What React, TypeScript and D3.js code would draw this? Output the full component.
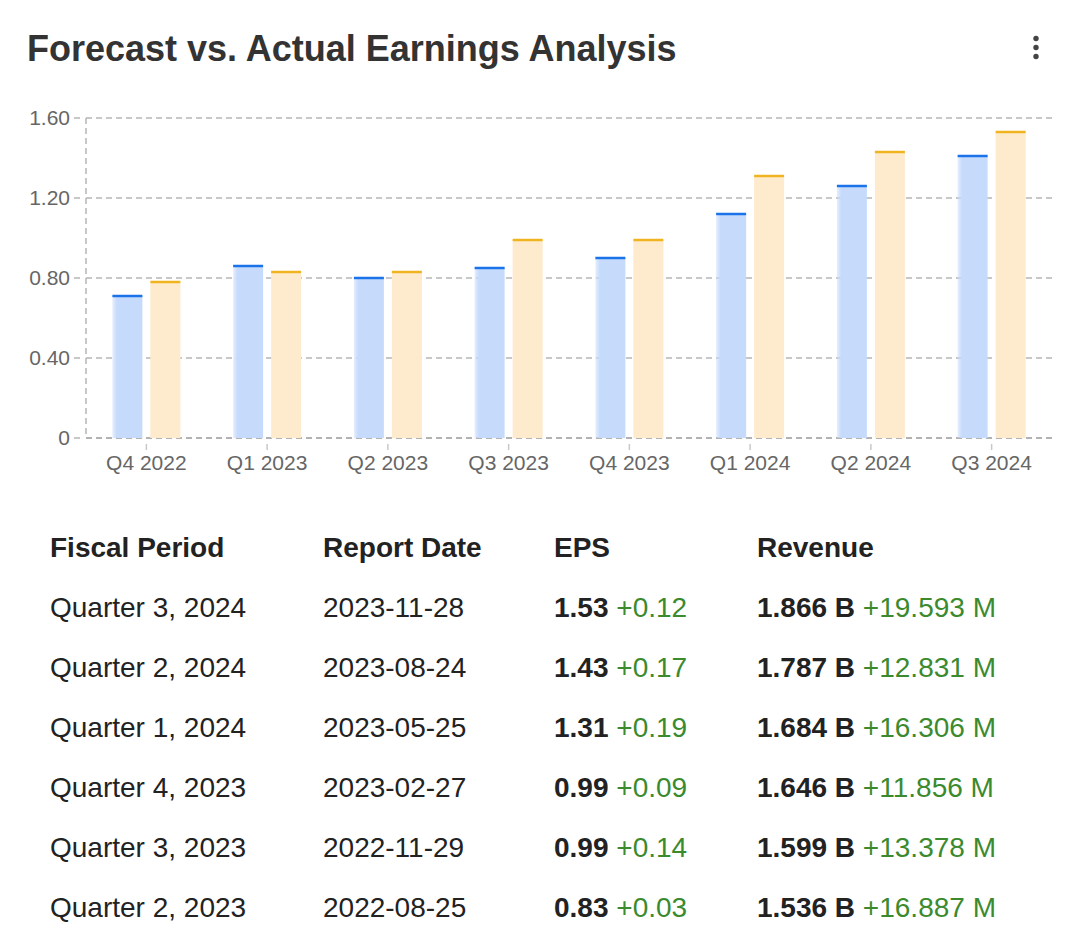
import React from 'react';
import * as d3 from 'd3';

// chart data
const quarters = ['Q4 2022', 'Q1 2023', 'Q2 2023', 'Q3 2023', 'Q4 2023', 'Q1 2024', 'Q2 2024', 'Q3 2024'];
const forecastEps = [0.71, 0.86, 0.8, 0.85, 0.9, 1.12, 1.26, 1.41];
const actualEps = [0.78, 0.83, 0.83, 0.99, 0.99, 1.31, 1.43, 1.53];
const yTicks = [0, 0.4, 0.8, 1.2, 1.6];

// table data
const tableHeaders = ['Fiscal Period', 'Report Date', 'EPS', 'Revenue'];
const periods = ['Quarter 3, 2024', 'Quarter 2, 2024', 'Quarter 1, 2024', 'Quarter 4, 2023', 'Quarter 3, 2023', 'Quarter 2, 2023'];
const reportDates = ['2023-11-28', '2023-08-24', '2023-05-25', '2023-02-27', '2022-11-29', '2022-08-25'];
const epsValues = ['1.53', '1.43', '1.31', '0.99', '0.99', '0.83'];
const epsSurprise = ['+0.12', '+0.17', '+0.19', '+0.09', '+0.14', '+0.03'];
const revenueValues = ['1.866 B', '1.787 B', '1.684 B', '1.646 B', '1.599 B', '1.536 B'];
const revenueSurprise = ['+19.593 M', '+12.831 M', '+16.306 M', '+11.856 M', '+13.378 M', '+16.887 M'];

const W = 1073;
const H = 939;
const font = 'Liberation Sans, Arial, Helvetica, sans-serif';

const App = () => {
    const left = 86;
    const right = 1052;
    const top = 118;
    const bottom = 438;

    const x = d3.scaleBand().domain(quarters).range([left, right]).padding(0);
    const inner = d3.scaleBand().domain(['forecast', 'actual']).range([-34, 34]).paddingInner(0.2105).paddingOuter(0);
    const y = d3.scaleLinear().domain([0, 1.6]).range([bottom, top]);

    const series = [
        { key: 'forecast', values: forecastEps, fill: '#c6dafc', line: '#1a73e8' },
        { key: 'actual', values: actualEps, fill: '#feeacd', line: '#f0b420' },
    ];

    const colX = [50, 323, 554, 757];
    const headerY = 557;
    const rowY = (i: number) => 617 + i * 60;

    return (
        <svg width={W} height={H} style={{ position: 'absolute', left: 0, top: 0, background: '#fff' }} fontFamily={font}>
            <defs>
                {series.map(s => (
                    <linearGradient key={s.key} id={`edge-${s.key}`} x1="0" x2="1" y1="0" y2="0">
                        <stop offset="0" stopColor={s.fill} stopOpacity={0.45} />
                        <stop offset="0.15" stopColor={s.fill} stopOpacity={1} />
                        <stop offset="1" stopColor={s.fill} stopOpacity={1} />
                    </linearGradient>
                ))}
            </defs>

            {/* title */}
            <text x={27} y={61} fontSize={36} fontWeight="bold" fill="#333">
                Forecast vs. Actual Earnings Analysis
            </text>
            {[38.5, 47.5, 56.5].map(cy => (
                <circle key={cy} cx={1036} cy={cy} r={2.7} fill="#444" />
            ))}

            {/* grid */}
            {yTicks.map(t => (
                <g key={t}>
                    <line x1={left} x2={right} y1={y(t)} y2={y(t)} stroke={t === 0 ? '#999' : '#b5b5b5'}
                        strokeWidth={1.5} strokeDasharray="6,4" />
                    <line x1={74} x2={80} y1={y(t)} y2={y(t)} stroke="#b5b5b5" strokeWidth={1.5} />
                    <text x={70} y={y(t)} dy="0.35em" textAnchor="end" fontSize={21} fill="#666">
                        {t === 0 ? '0' : d3.format('.2f')(t)}
                    </text>
                </g>
            ))}
            <line x1={left} x2={left} y1={top} y2={bottom} stroke="#b5b5b5" strokeWidth={1.5} strokeDasharray="6,4" />

            {/* bars */}
            {series.map(s => (
                <g key={s.key}>
                    {quarters.map((q, i) => {
                        const bx = (x(q) as number) + x.bandwidth() / 2 + (inner(s.key) as number);
                        const by = y(s.values[i]);
                        return (
                            <g key={q}>
                                <rect x={bx} y={by} width={inner.bandwidth()} height={bottom - by}
                                    fill={s.key === 'forecast' ? `url(#edge-${s.key})` : s.fill} />
                                <line x1={bx} x2={bx + inner.bandwidth()} y1={by} y2={by} stroke={s.line} strokeWidth={2.5} />
                            </g>
                        );
                    })}
                </g>
            ))}

            {/* x axis labels */}
            {quarters.map(q => {
                const cx = (x(q) as number) + x.bandwidth() / 2;
                return (
                    <g key={q}>
                        <line x1={cx} x2={cx} y1={444} y2={450} stroke="#c8c8c8" strokeWidth={1.5} />
                        <text x={cx} y={470} textAnchor="middle" fontSize={21} fill="#666">{q}</text>
                    </g>
                );
            })}

            {/* table */}
            {tableHeaders.map((h, i) => (
                <text key={h} x={colX[i]} y={headerY} fontSize={28} fontWeight="bold" fill="#222">{h}</text>
            ))}
            {periods.map((p, i) => (
                <g key={p} fontSize={28}>
                    <text x={colX[0]} y={rowY(i)} fill="#222">{p}</text>
                    <text x={colX[1]} y={rowY(i)} fill="#222">{reportDates[i]}</text>
                    <text x={colX[2]} y={rowY(i)} fill="#222">
                        <tspan fontWeight="bold">{epsValues[i]}</tspan>
                        <tspan fill="#3b8a2e"> {epsSurprise[i]}</tspan>
                    </text>
                    <text x={colX[3]} y={rowY(i)} fill="#222">
                        <tspan fontWeight="bold">{revenueValues[i]}</tspan>
                        <tspan fill="#3b8a2e"> {revenueSurprise[i]}</tspan>
                    </text>
                </g>
            ))}
        </svg>
    );
};

export default App;
